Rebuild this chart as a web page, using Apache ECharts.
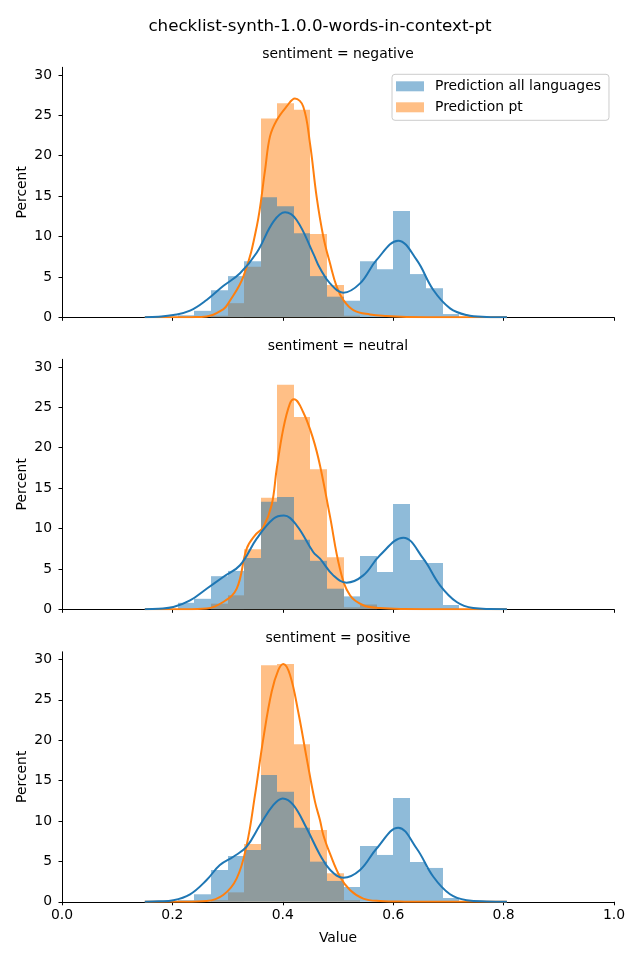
<!DOCTYPE html>
<html><head><meta charset="utf-8">
<script src="https://cdn.jsdelivr.net/npm/echarts@6/dist/echarts.min.js"></script>
<style>html,body{margin:0;padding:0;background:#fff}#chart{width:640px;height:960px}</style>
</head><body><div id="chart"></div>
<script>
// ---------- data ----------
const figTitle = 'checklist-synth-1.0.0-words-in-context-pt';
const panelTitles = ['sentiment = negative', 'sentiment = neutral', 'sentiment = positive'];
const seriesNames = ['Prediction all languages', 'Prediction pt'];
const xTicks = [0, 0.2, 0.4, 0.6, 0.8, 1.0];
const yTicks = [0, 5, 10, 15, 20, 25, 30];
const binStart = [0.21, 0.24, 0.27, 0.30, 0.33, 0.36, 0.39, 0.42, 0.45, 0.48, 0.51, 0.54, 0.57, 0.60, 0.63, 0.66, 0.69, 0.72];
const binWidth = 0.03;

// histogram percents
const negAll = [0.25, 0.8, 3.35, 5.1, 6.95, 14.85, 13.75, 10.4, 5.1, 2.55, 2.05, 6.95, 5.95, 13.15, 5.35, 3.6, 0.4, 0];
const negPt  = [0, 0, 0.2, 1.75, 6.25, 24.6, 26.5, 25.7, 10.3, 4.0, 0.2, 0, 0, 0, 0, 0, 0, 0];
const neuAll = [0.8, 1.3, 4.1, 4.75, 6.35, 13.3, 13.9, 8.6, 6.0, 2.55, 1.6, 6.6, 4.62, 13.04, 6.1, 5.73, 0.53, 0];
const neuPt  = [0, 0, 0.7, 1.73, 7.43, 13.8, 27.8, 23.8, 17.35, 6.45, 0.25, 0.6, 0, 0, 0, 0, 0, 0];
const posAll = [0.2, 0.93, 3.94, 5.67, 6.41, 15.7, 13.63, 9.18, 4.97, 2.58, 1.83, 6.9, 5.8, 12.85, 4.93, 4.19, 0.47, 0];
const posPt  = [0, 0, 0.2, 1.17, 7.15, 29.3, 29.45, 19.5, 8.9, 3.53, 0.2, 0, 0, 0, 0, 0, 0, 0];

// KDE curves
const negAllKdeX = [0.150, 0.175, 0.2017, 0.232, 0.262, 0.292, 0.3225, 0.3527, 0.383, 0.404, 0.425, 0.455, 0.4674, 0.4855, 0.5097, 0.54, 0.570, 0.609, 0.6425, 0.6727, 0.703, 0.733, 0.769, 0.806];
const negAllKdeY = [0.02, 0.08, 0.28, 0.82, 2.14, 3.87, 5.45, 8.0, 11.84, 13.0, 12.05, 7.92, 6.06, 4.2, 3.05, 4.2, 7.1, 9.49, 7.1, 3.38, 1.11, 0.28, 0.05, 0.01];
const negPtKdeX = [0.15, 0.2, 0.235, 0.262, 0.292, 0.3013, 0.3285, 0.3527, 0.3678, 0.3768, 0.389, 0.407, 0.422, 0.437, 0.4493, 0.4613, 0.4734, 0.4855, 0.4976, 0.5097, 0.5278, 0.558, 0.588, 0.624, 0.7, 0.806];
const negPtKdeY = [0, 0, 0.02, 0.1, 0.99, 1.73, 5.03, 11.2, 18.2, 22.4, 24.4, 26.1, 27.1, 26.1, 21.5, 14.9, 9.98, 6.68, 3.8, 2.14, 0.9, 0.35, 0.15, 0.05, 0, 0];
const neuAllKdeX = [0.15, 0.175, 0.2017, 0.232, 0.262, 0.292, 0.3225, 0.3527, 0.383, 0.402, 0.425, 0.455, 0.4674, 0.4915, 0.5157, 0.5458, 0.576, 0.6183, 0.6545, 0.6848, 0.715, 0.745, 0.775, 0.806];
const neuAllKdeY = [0.02, 0.08, 0.28, 1.1, 2.55, 4.0, 5.45, 8.74, 11.2, 11.6, 10.4, 7.1, 6.27, 4.2, 3.3, 4.2, 6.7, 8.87, 6.27, 2.97, 0.9, 0.15, 0.03, 0.01];
const neuPtKdeX = [0.15, 0.22, 0.262, 0.292, 0.3165, 0.3345, 0.3496, 0.3647, 0.3798, 0.389, 0.401, 0.413, 0.4203, 0.437, 0.455, 0.4674, 0.4855, 0.5036, 0.5217, 0.5458, 0.576, 0.62, 0.7, 0.806];
const neuPtKdeY = [0, 0.01, 0.1, 0.9, 2.55, 7.5, 9.16, 10.2, 12.9, 17.4, 22.4, 25.5, 26.0, 24.4, 21.1, 17.8, 11.5, 5.0, 1.73, 0.5, 0.15, 0.03, 0, 0];
const posAllKdeX = [0.15, 0.175, 0.2017, 0.232, 0.262, 0.286, 0.3104, 0.3345, 0.3587, 0.383, 0.3998, 0.419, 0.4432, 0.4674, 0.4855, 0.5097, 0.54, 0.570, 0.609, 0.6425, 0.6727, 0.703, 0.733, 0.769, 0.806];
const posAllKdeY = [0.02, 0.06, 0.2, 0.93, 2.7, 4.55, 5.58, 6.82, 9.5, 12.0, 12.8, 12.0, 9.1, 5.8, 3.97, 2.98, 3.94, 6.6, 9.18, 6.6, 3.1, 0.93, 0.2, 0.04, 0.01];
const posPtKdeX = [0.15, 0.22, 0.262, 0.292, 0.3165, 0.3345, 0.3496, 0.3647, 0.3798, 0.392, 0.401, 0.413, 0.428, 0.4432, 0.4583, 0.4674, 0.4734, 0.4855, 0.5036, 0.5217, 0.5458, 0.576, 0.62, 0.7, 0.806];
const posPtKdeY = [0, 0.01, 0.1, 0.84, 2.9, 7.0, 13.2, 20.2, 26.0, 28.7, 29.45, 28.1, 23.5, 17.8, 12.4, 10.1, 8.27, 5.95, 3.1, 1.46, 0.4, 0.1, 0.02, 0, 0];

// ---------- build ----------
const FONT = 'DejaVu Sans';
const BLUE = '#1f77b4', ORANGE = '#ff7f0e';
const BLUE_FILL = 'rgba(31,119,180,0.5)', ORANGE_FILL = 'rgba(255,127,14,0.5)';
const yMax = 30.95;
const gridTops = [67.3, 359.3, 651.8];
const gridH = 250;

const panels = [
  {all: negAll, pt: negPt, allKx: negAllKdeX, allKy: negAllKdeY, ptKx: negPtKdeX, ptKy: negPtKdeY},
  {all: neuAll, pt: neuPt, allKx: neuAllKdeX, allKy: neuAllKdeY, ptKx: neuPtKdeX, ptKy: neuPtKdeY},
  {all: posAll, pt: posPt, allKx: posAllKdeX, allKy: posAllKdeY, ptKx: posPtKdeX, ptKy: posPtKdeY}
];

function barRender(fill) {
  return function (params, api) {
    const p0 = api.coord([api.value(0), 0]);
    const p1 = api.coord([api.value(1), api.value(2)]);
    const x0 = Math.round(p0[0]), x1 = Math.round(p1[0]);
    return {type: 'rect', shape: {x: x0, y: p1[1], width: x1 - x0, height: p0[1] - p1[1]}, style: {fill: fill}};
  };
}

const grids = [], xAxes = [], yAxes = [], series = [], graphics = [];
panels.forEach((p, i) => {
  grids.push({left: 62, width: 552, top: gridTops[i], height: gridH, containLabel: false});
  const last = i === panels.length - 1;
  xAxes.push({
    type: 'value', gridIndex: i, min: 0, max: 1, interval: 0.2,
    axisLine: {show: true, lineStyle: {color: '#000', width: 1}},
    axisTick: {show: true, length: 3.5, lineStyle: {color: '#000', width: 1}, customValues: xTicks},
    axisLabel: {show: last, customValues: xTicks, margin: 7, color: '#000', fontFamily: FONT, fontSize: 13.9,
      formatter: v => v.toFixed(1)},
    splitLine: {show: false},
    name: last ? 'Value' : '', nameLocation: 'middle', nameGap: 30, nameMoveOverlap: false,
    nameTextStyle: {color: '#000', fontFamily: FONT, fontSize: 13.9}
  });
  yAxes.push({
    type: 'value', gridIndex: i, min: 0, max: yMax,
    axisLine: {show: true, lineStyle: {color: '#000', width: 1}},
    axisTick: {show: true, length: 3.5, lineStyle: {color: '#000', width: 1}, customValues: yTicks},
    axisLabel: {show: true, customValues: yTicks, margin: 10, color: '#000', fontFamily: FONT, fontSize: 13.9},
    splitLine: {show: false},
    name: 'Percent', nameLocation: 'middle', nameGap: 33, nameRotate: 90, nameMoveOverlap: false,
    nameTextStyle: {color: '#000', fontFamily: FONT, fontSize: 13.9}
  });
  const mk = vals => binStart.map((s, k) => [s, +(s + binWidth).toFixed(4), vals[k]]);
  series.push({
    type: 'custom', name: seriesNames[1], xAxisIndex: i, yAxisIndex: i,
    renderItem: barRender(ORANGE_FILL), encode: {x: [0, 1], y: 2},
    itemStyle: {color: ORANGE_FILL}, data: mk(p.pt), silent: true, z: 2
  });
  series.push({
    type: 'custom', name: seriesNames[0], xAxisIndex: i, yAxisIndex: i,
    renderItem: barRender(BLUE_FILL), encode: {x: [0, 1], y: 2},
    itemStyle: {color: BLUE_FILL}, data: mk(p.all), silent: true, z: 2
  });
  series.push({
    type: 'line', name: seriesNames[1] + ' kde', xAxisIndex: i, yAxisIndex: i,
    data: p.ptKx.map((x, k) => [x, p.ptKy[k]]), showSymbol: false, symbol: 'none',
    smooth: 0.4, lineStyle: {color: ORANGE, width: 2}, itemStyle: {color: ORANGE},
    silent: true, z: 3
  });
  series.push({
    type: 'line', name: seriesNames[0] + ' kde', xAxisIndex: i, yAxisIndex: i,
    data: p.allKx.map((x, k) => [x, p.allKy[k]]), showSymbol: false, symbol: 'none',
    smooth: 0.4, lineStyle: {color: BLUE, width: 2}, itemStyle: {color: BLUE},
    silent: true, z: 3
  });
  graphics.push({
    type: 'text', x: 338, y: gridTops[i] - 13, silent: true,
    style: {text: panelTitles[i], textAlign: 'center', textVerticalAlign: 'middle', fill: '#000',
      font: '13.9px "DejaVu Sans"'}
  });
});
graphics.push({
  type: 'text', x: 320, y: 27, silent: true,
  style: {text: figTitle, textAlign: 'center', textVerticalAlign: 'middle', fill: '#000',
    font: '16.7px "DejaVu Sans"'}
});

const option = {
  animation: false,
  backgroundColor: '#fff',
  grid: grids, xAxis: xAxes, yAxis: yAxes, series: series, graphic: graphics,
  legend: {
    orient: 'vertical', left: 392, top: 74.3,
    padding: [4, 8, 5, 4], itemGap: 5, itemWidth: 28, itemHeight: 10, icon: 'rect',
    backgroundColor: 'rgba(255,255,255,0.8)', borderColor: '#cccccc', borderWidth: 1, borderRadius: 3,
    textStyle: {color: '#000', fontFamily: FONT, fontSize: 13.9, lineHeight: 16, padding: [0, 0, 0, 6]},
    selectedMode: false,
    data: [
      {name: seriesNames[0], itemStyle: {color: BLUE_FILL}},
      {name: seriesNames[1], itemStyle: {color: ORANGE_FILL}}
    ]
  }
};
const chart = echarts.init(document.getElementById('chart'), null, {renderer: 'canvas'});
chart.setOption(option);
</script></body></html>
